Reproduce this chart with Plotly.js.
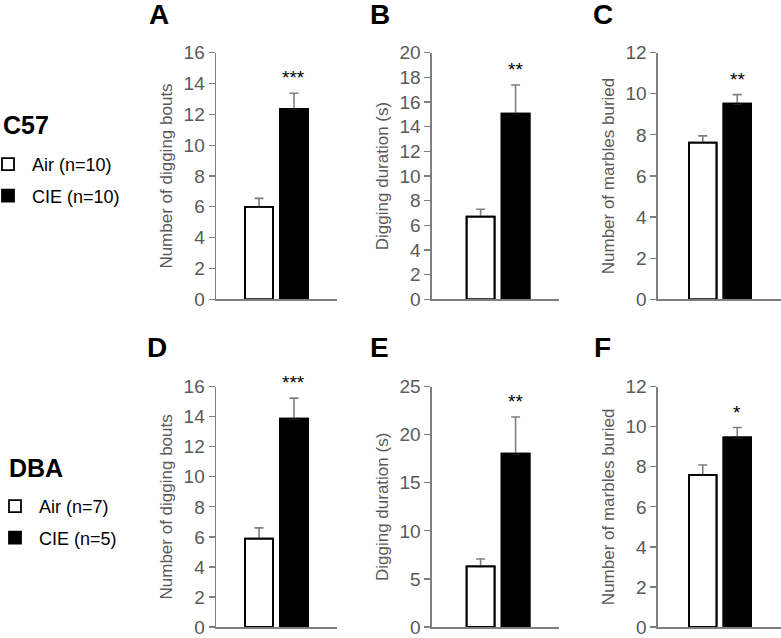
<!DOCTYPE html>
<html><head><meta charset="utf-8">
<script src="https://cdn.plot.ly/plotly-3.0.1.min.js"></script>
<style>body{margin:0;padding:0;background:#fff}#chart{width:781px;height:638px}</style>
</head><body><div id="chart"></div>
<script>
// ---- data ----
const groups = ['Air', 'CIE'];
const panelLetters = ['A', 'B', 'C', 'D', 'E', 'F'];
const yTitles = ['Number of digging bouts', 'Digging duration (s)', 'Number of marbles buried',
                 'Number of digging bouts', 'Digging duration (s)', 'Number of marbles buried'];
const airMeans = [6.0, 6.7, 7.62, 5.88, 6.3, 7.6];
const airSem   = [0.55, 0.6, 0.33, 0.72, 0.78, 0.49];
const cieMeans = [12.35, 15.05, 9.52, 13.87, 18.03, 9.47];
const cieSem   = [1.02, 2.33, 0.44, 1.37, 3.82, 0.49];
const stars    = ['***', '**', '**', '***', '**', '*'];
const yMax     = [16, 20, 12, 16, 25, 12];
const yStep    = [2, 2, 2, 2, 5, 2];
const strains  = ['C57', 'DBA'];
const airLabels = ['Air (n=10)', 'Air (n=7)'];
const cieLabels = ['CIE (n=10)', 'CIE (n=5)'];

// ---- layout geometry ----
const W = 781, H = 638;
const xDomains = [[0.2766, 0.4315], [0.5531, 0.7157], [0.8425, 1.0]];
const yDomains = [[0.5309, 0.9174], [0.0172, 0.3939]];
const xRanges  = [[-1.23, 2.23], [-1.39, 2.24], [-1.3, 2.27]];
const letterPos = [[159, 14], [380, 14], [603, 14], [157, 347], [379, 347], [602, 347]];
const strainPos = [[26, 125], [36, 468]];

const FONT = 'Arial, "Liberation Sans", sans-serif';
const GREY = '#7f7f7f';
const TXT = '#595959';

const barTraces = [], outlineTraces = [];
function legendCfg(xpx, ypx) {
  return {
    x: xpx / W, xanchor: 'left', y: 1 - ypx / H, yanchor: 'top',
    font: {size: 18, color: '#000', family: FONT},
    itemwidth: 38, tracegroupgap: 5, traceorder: 'grouped', bgcolor: 'rgba(0,0,0,0)'
  };
}
const layout = {
  width: W, height: H,
  margin: {l: 0, r: 0, t: 0, b: 0, autoexpand: false},
  paper_bgcolor: '#fff', plot_bgcolor: '#fff',
  font: {family: FONT, color: TXT},
  barmode: 'overlay',
  showlegend: true,
  annotations: [],
  legend: legendCfg(-16, 146),
  legend2: legendCfg(-9, 488)
};

for (let r = 0; r < 2; r++) {
  layout.annotations.push({
    xref: 'paper', yref: 'paper', x: strainPos[r][0] / W, y: 1 - strainPos[r][1] / H,
    xanchor: 'center', yanchor: 'middle', showarrow: false,
    text: '<b>' + strains[r] + '</b>', font: {size: 25, color: '#000', family: FONT}
  });
}

for (let i = 0; i < 6; i++) {
  const row = Math.floor(i / 3), col = i % 3;
  const n = i + 1;
  const xa = 'x' + (n === 1 ? '' : n), ya = 'y' + (n === 1 ? '' : n);
  const xk = 'xaxis' + (n === 1 ? '' : n), yk = 'yaxis' + (n === 1 ? '' : n);
  const legendId = row === 0 ? 'legend' : 'legend2';
  const series = [
    {name: airLabels[row], mean: airMeans[i], sem: airSem[i], fill: '#ffffff', grp: 'air' + row, x: groups[0]},
    {name: cieLabels[row], mean: cieMeans[i], sem: cieSem[i], fill: '#000000', grp: 'cie' + row, x: groups[1]}
  ];
  series.forEach(s => {
    // filled bar with upward error bar
    barTraces.push({
      type: 'bar', x: [s.x], y: [s.mean], width: [0.8],
      xaxis: xa, yaxis: ya,
      name: s.name, legend: legendId, legendgroup: s.grp,
      showlegend: col === 0,
      marker: {color: s.fill, line: {color: '#000', width: 1.8}},
      error_y: {type: 'data', array: [s.sem], arrayminus: [0], symmetric: false,
                color: GREY, thickness: 1.6, width: 4.5},
      hoverinfo: 'y'
    });
    // bar outline drawn on top so the error bar does not paint over the bar's top edge
    outlineTraces.push({
      type: 'bar', x: [s.x], y: [s.mean], width: [0.8],
      xaxis: xa, yaxis: ya, showlegend: false, hoverinfo: 'skip',
      marker: {color: 'rgba(0,0,0,0)', line: {color: '#000', width: 1.8}}
    });
  });

  layout[xk] = {
    domain: xDomains[col], anchor: ya, range: xRanges[col],
    type: 'category', categoryorder: 'array', categoryarray: groups,
    showline: true, linecolor: GREY, linewidth: 1.5,
    showticklabels: false, ticks: '', showgrid: false, zeroline: false, fixedrange: true
  };
  layout[yk] = {
    domain: yDomains[row], anchor: xa, range: [0, yMax[i]], dtick: yStep[i], tick0: 0,
    showline: true, linecolor: GREY, linewidth: 1.5,
    ticks: 'outside', ticklen: 6, tickcolor: GREY, tickwidth: 1.2,
    tickfont: {size: 19, color: TXT, family: FONT}, ticklabeloverflow: 'allow',
    title: {text: yTitles[i], font: {size: 17, color: TXT, family: FONT}, standoff: 6},
    showgrid: false, zeroline: false, fixedrange: true, automargin: false
  };

  layout.annotations.push({
    xref: xa, yref: ya, x: groups[1], y: cieMeans[i] + cieSem[i],
    text: stars[i], showarrow: false, yanchor: 'bottom', yshift: 3,
    font: {size: 19, color: '#000', family: FONT}
  });
  layout.annotations.push({
    xref: 'paper', yref: 'paper',
    x: letterPos[i][0] / W, y: 1 - letterPos[i][1] / H,
    xanchor: 'center', yanchor: 'middle',
    text: '<b>' + panelLetters[i] + '</b>', showarrow: false,
    font: {size: 28, color: '#000', family: FONT}
  });
}

Plotly.newPlot('chart', barTraces.concat(outlineTraces), layout, {displayModeBar: false, staticPlot: true});
</script>
</body></html>
